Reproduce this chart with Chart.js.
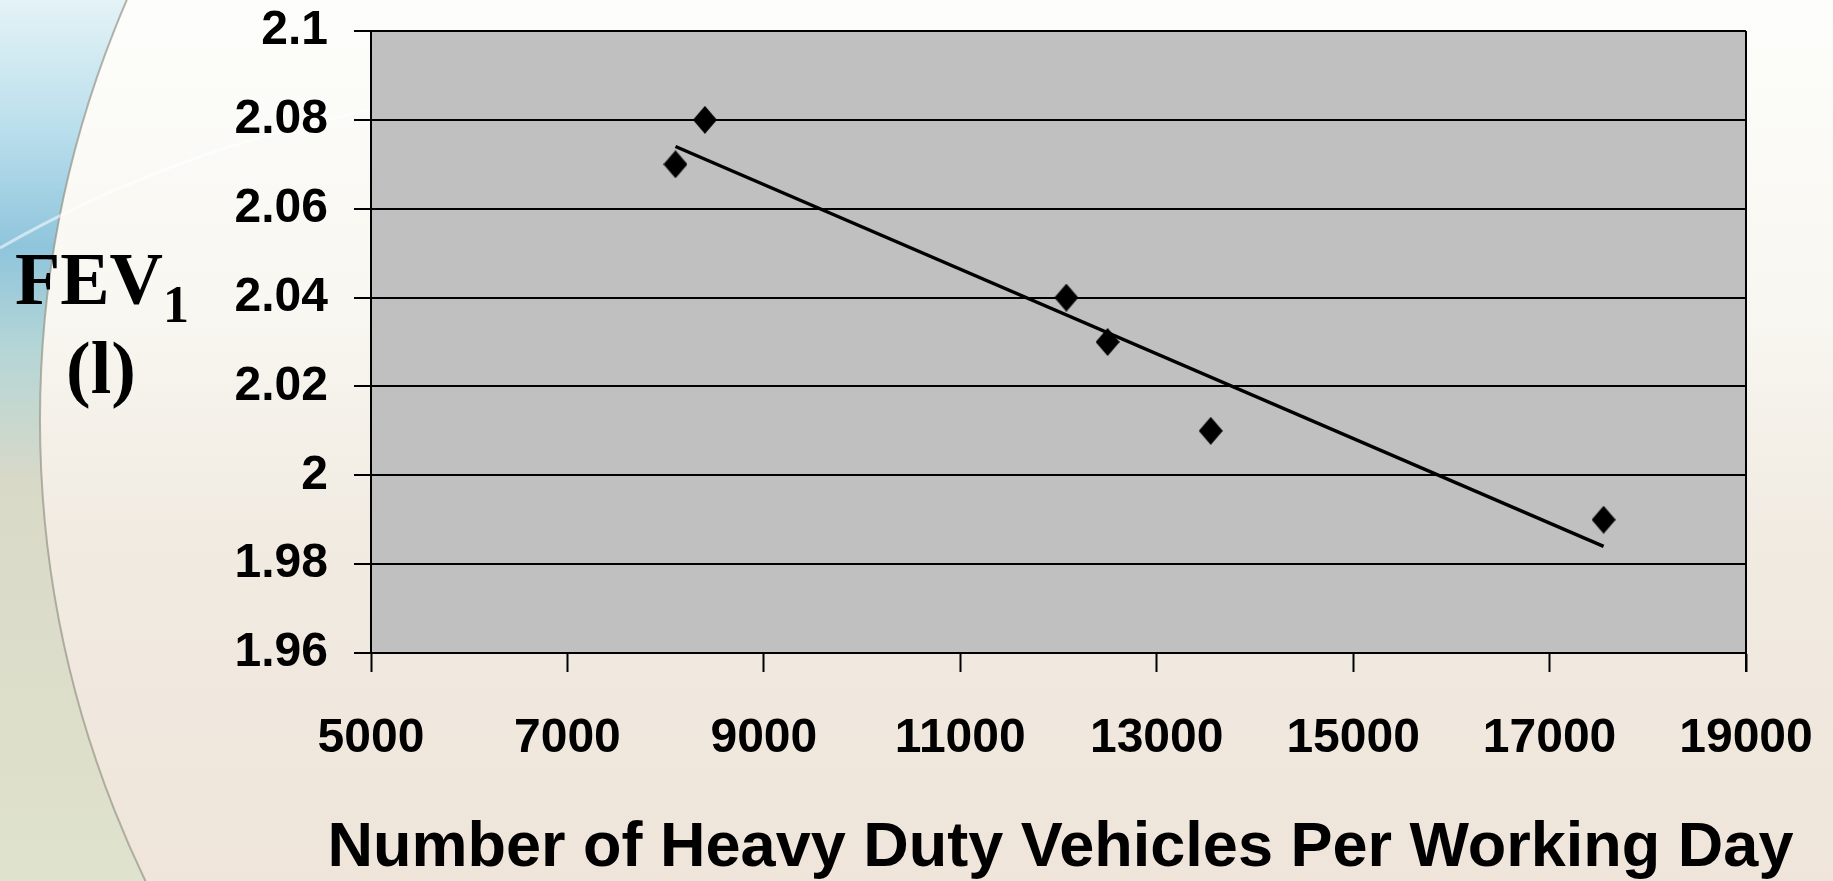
<!DOCTYPE html>
<html>
  <head>
    <meta charset="utf-8" />
    <title>FEV1 vs Heavy Duty Vehicles</title>
    <style>
      html, body { margin: 0; padding: 0; overflow: hidden; background: #f3ede4; }
      #wrap { width: 1833px; height: 881px; }
    </style>
  </head>
  <body>
    <div id="wrap"><canvas id="chart" width="1833" height="881"></canvas></div>
    <script src="https://cdn.jsdelivr.net/npm/chart.js@4.4.1/dist/chart.umd.min.js"></script>
    <script>
      // values
      const vehicles = [8100, 8400, 12080, 12500, 13550, 17550];
      const fev1 = [2.07, 2.08, 2.04, 2.03, 2.01, 1.99];
      const trendX = [8100, 17550];
      const trendY = [2.074, 1.984];
      const xTicks = [5000, 7000, 9000, 11000, 13000, 15000, 17000, 19000];
      const yTicks = [1.96, 1.98, 2.0, 2.02, 2.04, 2.06, 2.08, 2.1];
      const yLabels = ["1.96", "1.98", "2", "2.02", "2.04", "2.06", "2.08", "2.1"];
      const xTitle = "Number of Heavy Duty Vehicles Per Working Day";

      const sans = "'Liberation Sans', Arial, sans-serif";
      const serif = "'Liberation Serif', 'Times New Roman', serif";

      // slightly tall diamond marker, like the Excel one
      function diamond(w, h) {
        const c = document.createElement("canvas");
        c.width = w;
        c.height = h;
        const g = c.getContext("2d");
        g.fillStyle = "#000";
        g.beginPath();
        g.moveTo(w / 2, 0);
        g.lineTo(w, h / 2);
        g.lineTo(w / 2, h);
        g.lineTo(0, h / 2);
        g.closePath();
        g.fill();
        return c;
      }

      // slide-like backdrop, grey plot area and the axis titles
      const decor = {
        id: "decor",
        beforeDraw(chart) {
          const ctx = chart.ctx;
          const W = chart.width, H = chart.height;
          ctx.save();
          let g = ctx.createLinearGradient(0, 0, 0, H);
          g.addColorStop(0, "#e4f3f6");
          g.addColorStop(0.15, "#b9deec");
          g.addColorStop(0.28, "#8fc5dc");
          g.addColorStop(0.4, "#b6d6d6");
          g.addColorStop(0.55, "#d9d9c8");
          g.addColorStop(1, "#dfe2cc");
          ctx.fillStyle = g;
          ctx.fillRect(0, 0, W, H);

          // inside of the big circle
          ctx.beginPath();
          ctx.arc(1100, 420, 1060, 0, Math.PI * 2);
          g = ctx.createLinearGradient(0, 0, 0, H);
          g.addColorStop(0, "#fdfdfb");
          g.addColorStop(0.35, "#f8f7f1");
          g.addColorStop(0.6, "#f1ebe2");
          g.addColorStop(1, "#efe5da");
          ctx.fillStyle = g;
          ctx.fill();
          ctx.strokeStyle = "rgba(150,150,135,0.7)";
          ctx.lineWidth = 2;
          ctx.stroke();

          // faint sweep near the top left
          ctx.beginPath();
          ctx.moveTo(0, 248);
          ctx.quadraticCurveTo(170, 150, 380, 108);
          ctx.strokeStyle = "rgba(255,255,255,0.55)";
          ctx.lineWidth = 3;
          ctx.stroke();

          const a = chart.chartArea;
          ctx.fillStyle = "#c0c0c0";
          ctx.fillRect(a.left, a.top, a.right - a.left, a.bottom - a.top);
          ctx.restore();
        },
        beforeDatasetsDraw(chart) {
          const ctx = chart.ctx;
          const a = chart.chartArea;
          ctx.save();
          ctx.strokeStyle = "#000";
          ctx.lineWidth = 2;
          ctx.beginPath();
          ctx.moveTo(a.right, a.top);
          ctx.lineTo(a.right, a.bottom + 19);
          ctx.stroke();
          ctx.restore();
        },
        afterDraw(chart) {
          const ctx = chart.ctx;
          const a = chart.chartArea;
          ctx.save();
          ctx.fillStyle = "#000";
          ctx.textBaseline = "alphabetic";
          ctx.textAlign = "left";
          ctx.font = "bold 74px " + serif;
          ctx.fillText("FEV", 15, 304);
          ctx.font = "bold 52px " + serif;
          ctx.fillText("1", 163, 322);
          ctx.textAlign = "center";
          ctx.font = "bold 74px " + serif;
          ctx.fillText("(l)", 101, 393);

          ctx.font = "bold 63px " + sans;
          ctx.fillText(xTitle, (a.left + a.right) / 2 + 2, 866);
          ctx.restore();
        },
      };

      const ctx = document.getElementById("chart").getContext("2d");
      const myChart = new Chart(ctx, {
        type: "scatter",
        data: {
          datasets: [
            {
              label: "FEV1",
              data: vehicles.map((v, i) => ({ x: v, y: fev1[i] })),
              pointStyle: diamond(24, 28),
              pointRadius: 13,
              backgroundColor: "#000",
              borderColor: "#000",
            },
            {
              label: "Trend",
              type: "line",
              data: trendX.map((v, i) => ({ x: v, y: trendY[i] })),
              borderColor: "#000",
              borderWidth: 3.5,
              pointRadius: 0,
              fill: false,
            },
          ],
        },
        options: {
          responsive: false,
          animation: false,
          layout: { padding: { top: 31, right: 87, left: 0, bottom: 0 } },
          plugins: {
            legend: { display: false },
            tooltip: { enabled: false },
          },
          scales: {
            x: {
              type: "linear",
              position: "bottom",
              min: 5000,
              max: 19000,
              afterBuildTicks: (s) => { s.ticks = xTicks.map((v) => ({ value: v })); },
              afterFit: (s) => {
                s.height = 228;
                s.paddingLeft = 0;
                s.paddingRight = 0;
              },
              grid: { drawOnChartArea: false, drawTicks: true, tickLength: 19, tickColor: "#000", tickWidth: 2 },
              border: { color: "#000", width: 2 },
              ticks: {
                color: "#000",
                padding: 38,
                maxRotation: 0,
                font: { family: sans, size: 48, weight: "bold" },
                callback: (v) => String(v),
              },
            },
            y: {
              min: 1.96,
              max: 2.1,
              afterBuildTicks: (s) => { s.ticks = yTicks.map((v) => ({ value: v })); },
              afterFit: (s) => {
                s.width = 371;
                s.paddingTop = 0;
                s.paddingBottom = 0;
              },
              grid: { color: "#000", lineWidth: 2, drawTicks: true, tickLength: 17, tickColor: "#000" },
              border: { color: "#000", width: 2 },
              ticks: {
                color: "#000",
                padding: 26,
                font: { family: sans, size: 48, weight: "bold" },
                callback: (v) => {
                  const i = yTicks.findIndex((t) => Math.abs(t - v) < 1e-6);
                  return i >= 0 ? yLabels[i] : "";
                },
              },
            },
          },
        },
        plugins: [decor],
      });
    </script>
  </body>
</html>
